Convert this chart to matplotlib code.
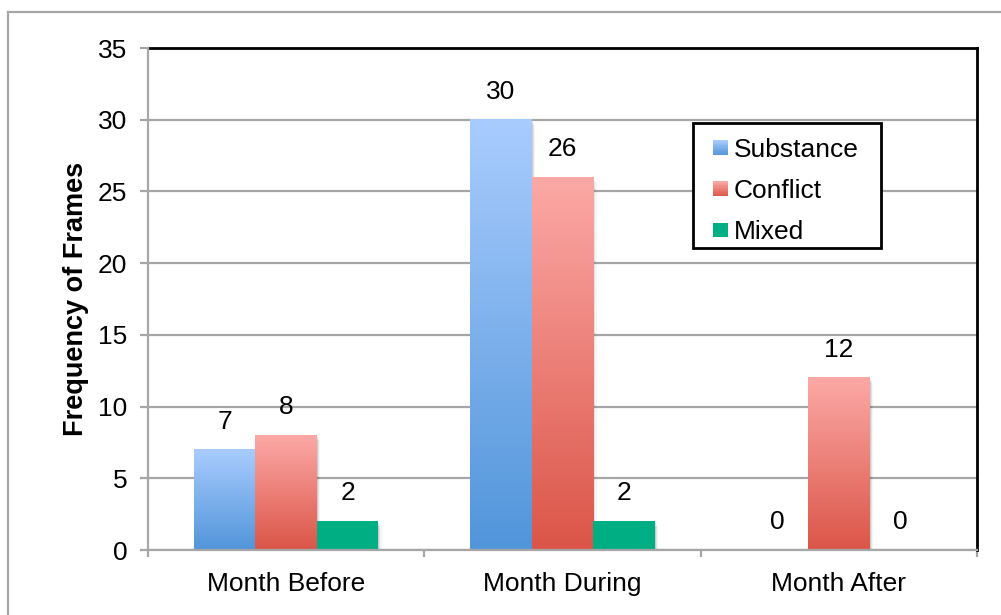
import numpy as np
import matplotlib
matplotlib.use("Agg")
import matplotlib.pyplot as plt
import matplotlib.transforms as mtransforms
from matplotlib.colors import LinearSegmentedColormap
from matplotlib.patches import Rectangle
from matplotlib.lines import Line2D
from matplotlib.legend_handler import HandlerBase

plt.rcParams["font.family"] = ["Liberation Sans", "DejaVu Sans"]

categories = ["Month Before", "Month During", "Month After"]
series_names = ["Substance", "Conflict", "Mixed"]
substance = [7, 30, 0]
conflict = [8, 26, 12]
mixed = [2, 2, 0]
y_ticks = [0, 5, 10, 15, 20, 25, 30, 35]

# gradient (top, bottom) colours per series; None bottom means flat fill
fills = [("#A9CCFE", "#5195DA"), ("#FCA9A6", "#DB5548"), ("#00AE84", None)]

W, H = 1001, 615
fig = plt.figure(figsize=(W / 100, H / 100), dpi=100)


def px(x, y):
    """Pixel position (from top-left) to figure fraction."""
    return x / W, 1 - y / H


# outer chart frame
fig.add_artist(Line2D([8 / W, 8 / W], [0, 1 - 12 / H], transform=fig.transFigure,
                      color="#A6A6A6", lw=1.6))
fig.add_artist(Line2D([8 / W, 1], [1 - 12 / H, 1 - 12 / H], transform=fig.transFigure,
                      color="#A6A6A6", lw=1.6))

ax = fig.add_axes([148 / W, (H - 550) / H, (977 - 148) / W, (550 - 48) / H])

n_groups = len(categories)
bar_w = 1 / 4.5
x = np.arange(n_groups)
values = [substance, conflict, mixed]

grad = np.linspace(1, 0, 256).reshape(-1, 1)
label_offset = mtransforms.ScaledTranslation(0, 28 / 100, fig.dpi_scale_trans)
for s, (vals, (top, bottom)) in enumerate(zip(values, fills)):
    offs = (s - 1) * bar_w
    for i, v in enumerate(vals):
        x0 = x[i] + offs - bar_w / 2
        if v > 0:
            # soft shadow
            for k, a in enumerate([0.10, 0.07, 0.04]):
                d = 0.004 * (k + 1)
                ax.add_patch(Rectangle((x0 + d, -0.12 * (k + 1)), bar_w, v,
                                       facecolor="black", alpha=a, lw=0, zorder=2))
            if bottom is None:
                ax.add_patch(Rectangle((x0, 0), bar_w, v, facecolor=top, lw=0, zorder=3))
            else:
                cmap = LinearSegmentedColormap.from_list(f"g{s}", [bottom, top])
                ax.imshow(grad, cmap=cmap, aspect="auto", origin="upper",
                          extent=(x0, x0 + bar_w, 0, v), zorder=3, interpolation="bilinear")
        ax.text(x[i] + offs, v, str(v), ha="center", va="center", fontsize=19,
                transform=ax.transData + label_offset, zorder=5)

ax.set_xlim(-0.5, n_groups - 0.5)
ax.set_ylim(0, 35)
ax.set_yticks(y_ticks)
ax.set_yticklabels([str(t) for t in y_ticks])
ax.set_xticks(x)
ax.set_xticklabels(categories)
ax.set_xticks(np.arange(-0.5, n_groups, 1.0), minor=True)

ax.grid(axis="y", color="#A6A6A6", lw=1.6, zorder=0)
ax.set_axisbelow(True)

ax.tick_params(axis="y", which="major", length=6, width=1.6, color="#A6A6A6",
               direction="out", labelsize=19, pad=9)
ax.tick_params(axis="x", which="major", length=0, labelsize=19, pad=16)
ax.tick_params(axis="x", which="minor", length=5, width=1.6, color="#A6A6A6", direction="out")

for side in ["left", "bottom"]:
    ax.spines[side].set_color("#A6A6A6")
    ax.spines[side].set_linewidth(1.6)
    ax.spines[side].set_zorder(4)
for side in ["top", "right"]:
    ax.spines[side].set_color("black")
    ax.spines[side].set_linewidth(2)

ax.set_ylabel("Frequency of Frames", fontsize=19.5, fontweight="bold", labelpad=6)


class GradientSwatch(HandlerBase):
    """Legend key drawn as a small square with the series' vertical gradient."""

    def create_artists(self, legend, orig_handle, xdescent, ydescent, width, height,
                       fontsize, trans):
        top, bottom = orig_handle
        side = min(width, height)
        x0 = -xdescent + (width - side) / 2
        y0 = -ydescent + (height - side) / 2
        if bottom is None:
            return [Rectangle((x0, y0), side, side, facecolor=top, lw=0, transform=trans)]
        cmap = LinearSegmentedColormap.from_list("k", [bottom, top])
        n = 12
        artists = []
        for j in range(n):
            artists.append(Rectangle((x0, y0 + side * j / n), side, side / n + 0.3,
                                     facecolor=cmap((j + 0.5) / n), lw=0, transform=trans))
        return artists


# legend box
lx0, ly0 = px(693, 248)
lx1, ly1 = px(881, 123)
fig.add_artist(Rectangle((lx0, ly0), lx1 - lx0, ly1 - ly0, transform=fig.transFigure,
                         facecolor="white", edgecolor="black", lw=2, zorder=4.5))

handles = [tuple(f) for f in fills]
leg = fig.legend(handles, series_names, loc="upper left",
                 handler_map={tuple: GradientSwatch()},
                 bbox_to_anchor=px(713, 138), bbox_transform=fig.transFigure,
                 fontsize=19, frameon=False, handlelength=0.55, handleheight=0.55,
                 handletextpad=0.25, labelspacing=0.65, borderpad=0, borderaxespad=0)
leg.set_zorder(5)

fig.savefig("out.png", dpi=100)
